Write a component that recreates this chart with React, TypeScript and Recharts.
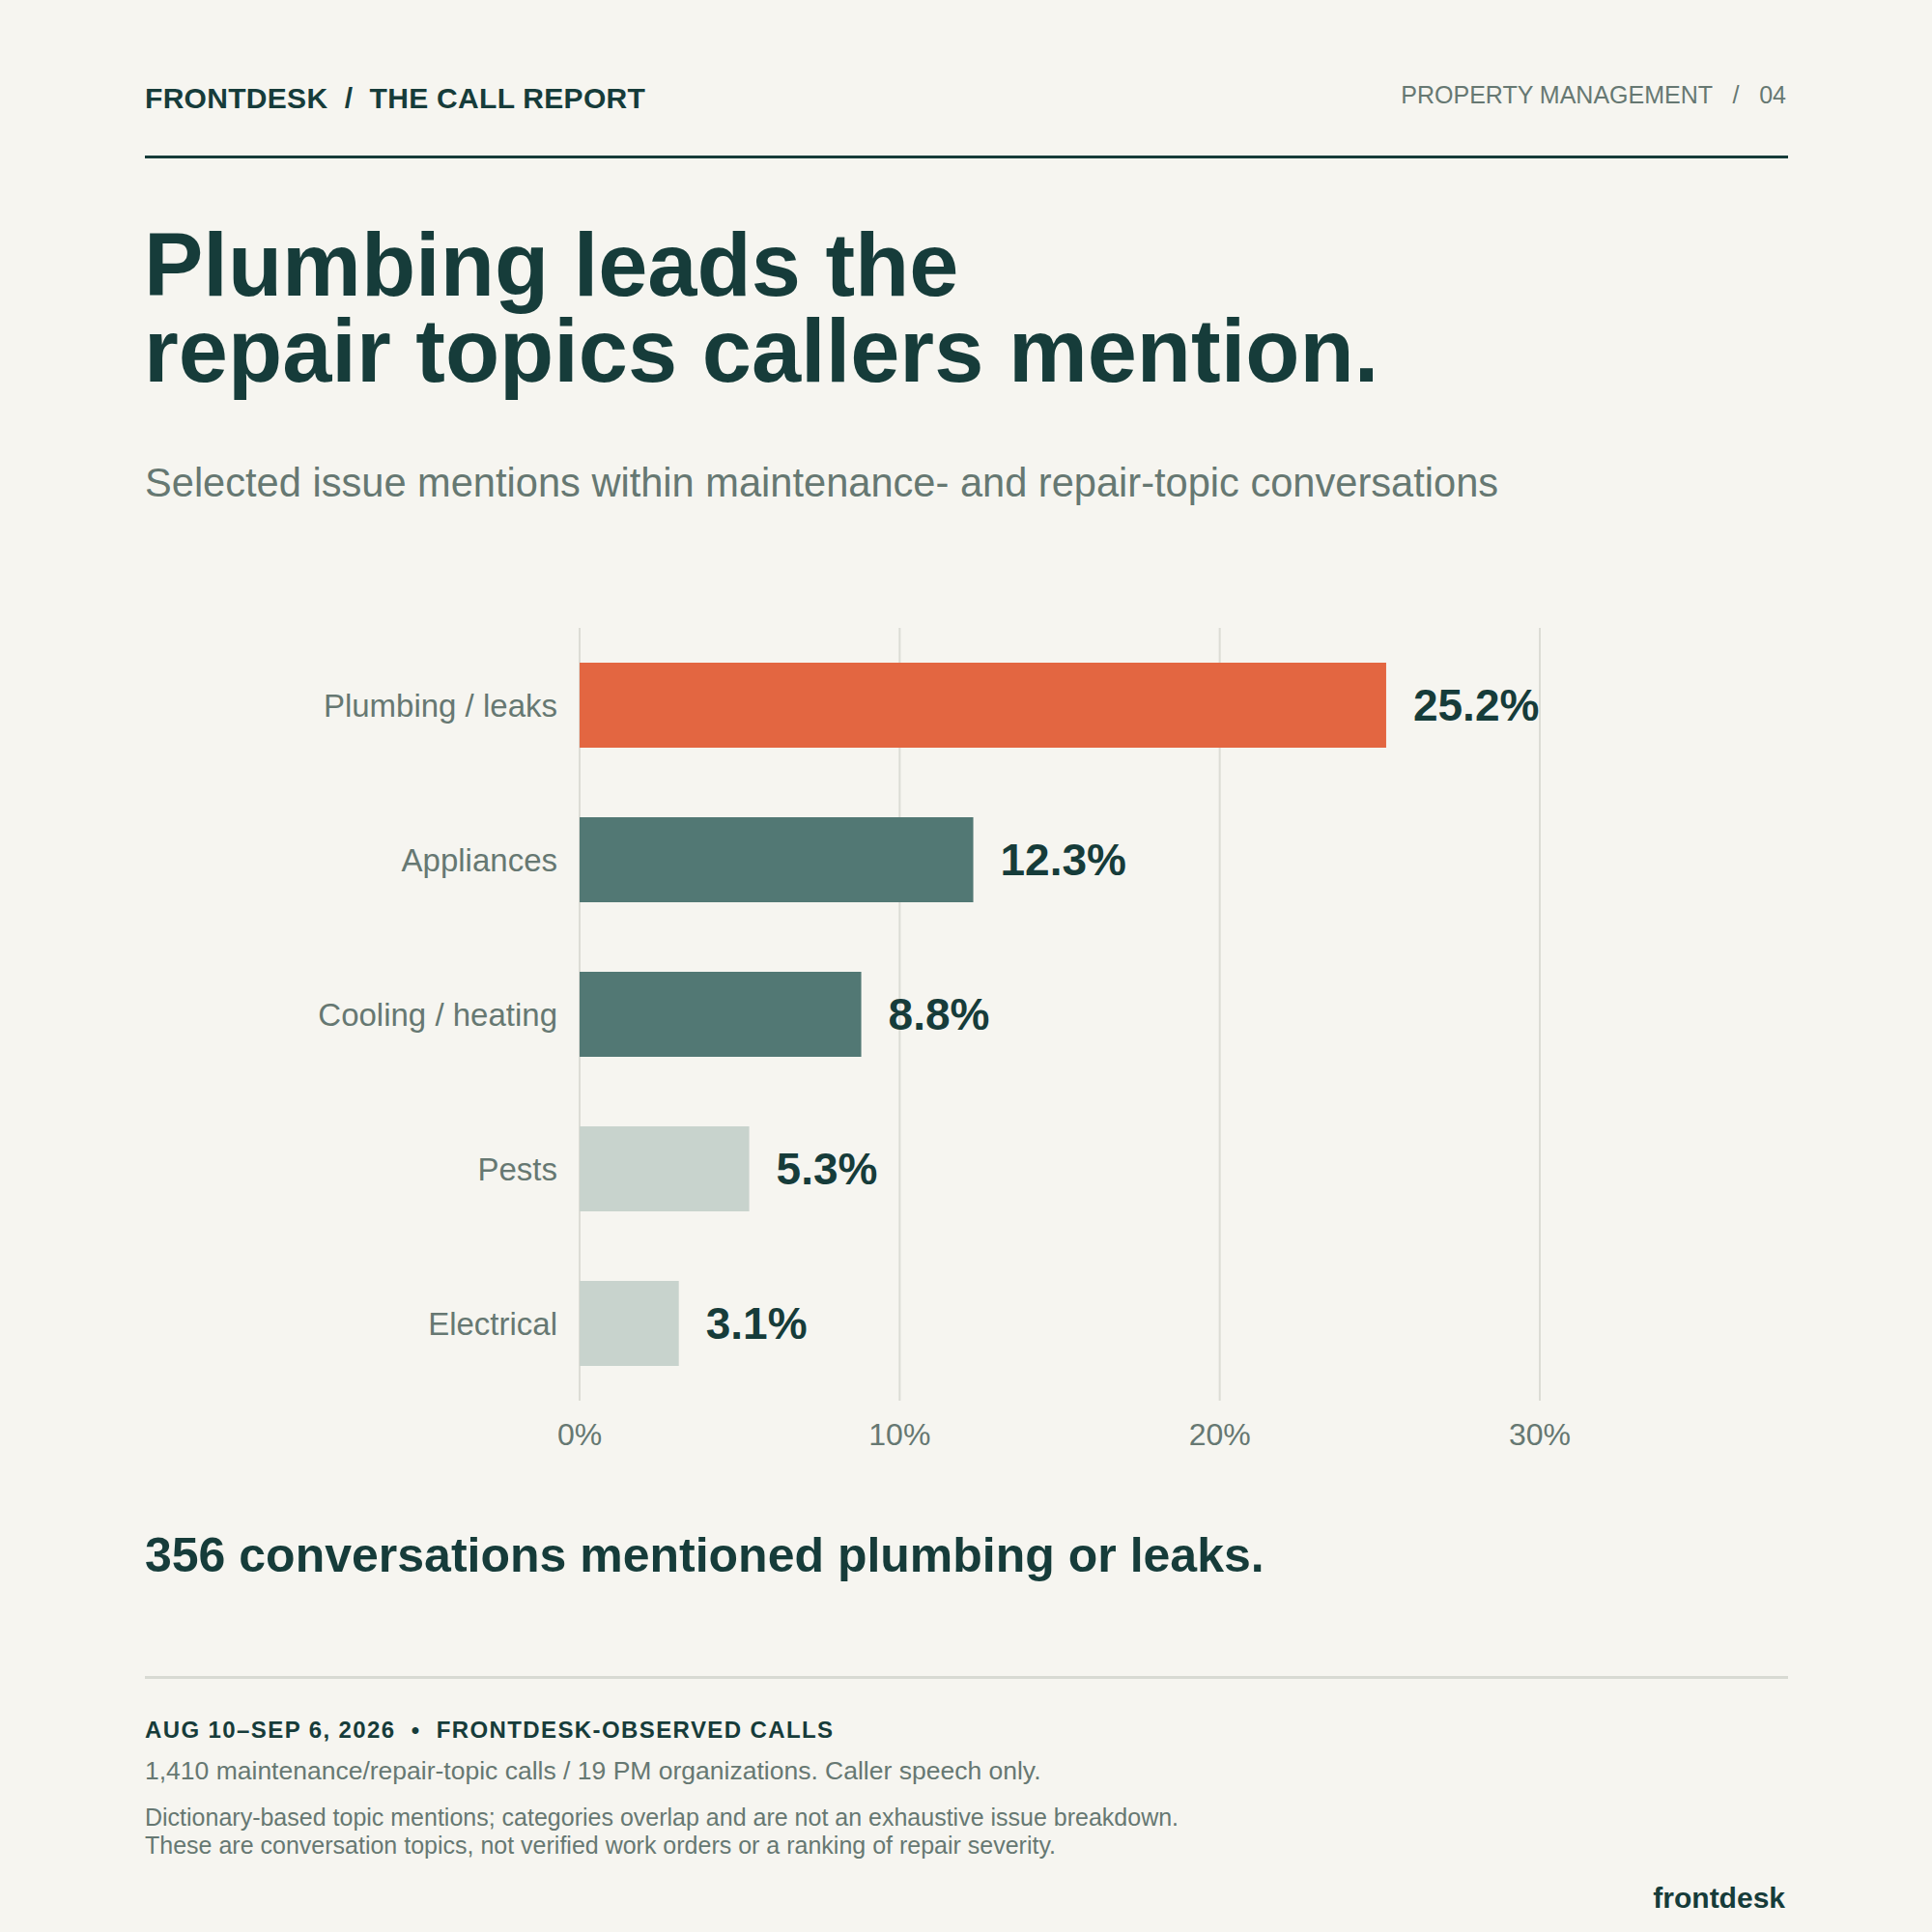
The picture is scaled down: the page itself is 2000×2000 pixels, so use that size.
import React from 'react';
import { BarChart, Bar, XAxis, YAxis, CartesianGrid, Cell, LabelList } from 'recharts';

const categories = ['Plumbing / leaks', 'Appliances', 'Cooling / heating', 'Pests', 'Electrical'];
const shares = [25.2, 12.3, 8.8, 5.3, 3.1];
const xTicks = [0, 10, 20, 30];

const FONT = '"Liberation Sans", Arial, Helvetica, sans-serif';
const DARK = '#163c3a';
const GRAY = '#667872';
const BG = '#f6f5f0';
const barFills = ['#e36641', '#527874', '#527874', '#c8d3cd', '#c8d3cd'];

const chartData = categories.map((name, i) => ({ name, value: shares[i] }));

// places text so that its first baseline lands on `baseline`
const Line: React.FC<{
  baseline: number;
  size: number;
  left?: number;
  right?: number;
  weight?: number;
  color?: string;
  spacing?: number;
  lineHeight?: number;
  children: React.ReactNode;
}> = ({ baseline, size, left, right, weight = 400, color = DARK, spacing = 0, lineHeight, children }) => {
  const lh = lineHeight ?? Math.round(size * 0.8);
  return (
    <div
      style={{
        position: 'absolute',
        top: baseline - (lh / 2 + size * 0.3465),
        left,
        right: right !== undefined ? 2000 - right : undefined,
        fontSize: size,
        lineHeight: `${lh}px`,
        fontWeight: weight,
        color,
        letterSpacing: spacing,
        whiteSpace: 'pre',
      }}
    >
      {children}
    </div>
  );
};

const App: React.FC = () => {
  return (
    <div
      style={{
        position: 'absolute',
        left: 0,
        top: 0,
        width: 2000,
        height: 2000,
        background: BG,
        fontFamily: FONT,
        overflow: 'hidden',
      }}
    >
      <Line baseline={112} size={30} left={150} weight={700} spacing={0.3}>
        {'FRONTDESK  /  THE CALL REPORT'}
      </Line>
      <Line baseline={107} size={25} right={1849} color={GRAY}>
        {'PROPERTY MANAGEMENT   /   04'}
      </Line>
      <div style={{ position: 'absolute', left: 150, top: 161, width: 1701, height: 3, background: DARK }} />

      <Line baseline={306} size={92} left={149} weight={700} lineHeight={89}>
        {'Plumbing leads the\nrepair topics callers mention.'}
      </Line>

      <Line baseline={514} size={41.6} left={150} color={GRAY}>
        Selected issue mentions within maintenance- and repair-topic conversations
      </Line>

      <div style={{ position: 'absolute', left: 0, top: 620 }}>
        <BarChart
          width={1800}
          height={900}
          data={chartData}
          layout="vertical"
          margin={{ top: 30, right: 206, bottom: 0, left: 0 }}
        >
          <CartesianGrid horizontal={false} stroke="#dcdcd5" strokeWidth={2} />
          <XAxis
            type="number"
            domain={[0, 30]}
            ticks={xTicks}
            tickFormatter={(v: number) => `${v}%`}
            axisLine={false}
            tickLine={false}
            tickSize={0}
            tickMargin={23}
            height={70}
            tick={{ fill: GRAY, fontSize: 32, fontFamily: FONT }}
          />
          <YAxis
            type="category"
            dataKey="name"
            width={600}
            axisLine={false}
            tickLine={false}
            tickSize={0}
            tickMargin={23}
            tick={{ fill: GRAY, fontSize: 33, fontFamily: FONT }}
          />
          <Bar dataKey="value" barSize={88} isAnimationActive={false}>
            {chartData.map((d, i) => (
              <Cell key={d.name} fill={barFills[i]} />
            ))}
            <LabelList
              dataKey="value"
              position="right"
              offset={28}
              formatter={(v: number) => `${v}%`}
              fill={DARK}
              fontSize={46}
              fontWeight={700}
              fontFamily={FONT}
            />
          </Bar>
        </BarChart>
      </div>

      <Line baseline={1627} size={50} left={150} weight={700}>
        356 conversations mentioned plumbing or leaks.
      </Line>

      <div style={{ position: 'absolute', left: 150, top: 1735, width: 1701, height: 3, background: '#d8dad3' }} />

      <Line baseline={1799} size={24} left={150} weight={700} spacing={1.4}>
        {'AUG 10–SEP 6, 2026  •  FRONTDESK-OBSERVED CALLS'}
      </Line>
      <Line baseline={1843} size={26.5} left={150} color={GRAY}>
        1,410 maintenance/repair-topic calls / 19 PM organizations. Caller speech only.
      </Line>
      <Line baseline={1890} size={25} left={150} color={GRAY}>
        Dictionary-based topic mentions; categories overlap and are not an exhaustive issue breakdown.
      </Line>
      <Line baseline={1919} size={25} left={150} color={GRAY}>
        These are conversation topics, not verified work orders or a ranking of repair severity.
      </Line>

      <Line baseline={1975} size={30} right={1848} weight={700}>
        frontdesk
      </Line>
    </div>
  );
};

export default App;
